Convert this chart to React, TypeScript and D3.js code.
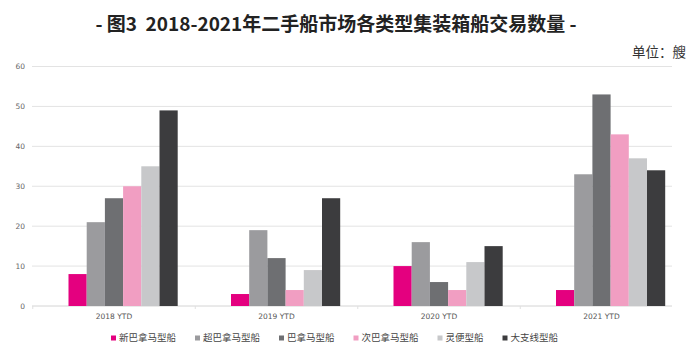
import React from "react";
import * as d3 from "d3";

const categories = ["2018 YTD", "2019 YTD", "2020 YTD", "2021 YTD"];
const seriesNames = ["新巴拿马型船", "超巴拿马型船", "巴拿马型船", "次巴拿马型船", "灵便型船", "大支线型船"];
const seriesColors = ["#e4007f", "#9b9b9e", "#6e6f72", "#f19ec2", "#c7c8ca", "#3c3c3e"];
const values2018 = [8, 21, 27, 30, 35, 49];
const values2019 = [3, 19, 12, 4, 9, 27];
const values2020 = [10, 16, 6, 4, 11, 15];
const values2021 = [4, 33, 53, 43, 37, 34];
const yTicks = [0, 10, 20, 30, 40, 50, 60];
const titleText = "- 图3  2018-2021年二手船市场各类型集装箱船交易数量 -";
const unitText = "单位：艘";

const valuesByCategory = [values2018, values2019, values2020, values2021];

export default function App() {
  const W = 696, H = 353;
  const plotLeft = 32, plotRight = 672;
  const y = d3.scaleLinear().domain([0, 60]).range([306, 66.5]);
  const x0 = d3.scaleBand<string>().domain(categories).range([32.75, 682.75]).paddingInner(0).paddingOuter(0);
  const slots = ["__blank", ...seriesNames];
  const groupW = 7 * 18.2;
  const x1 = d3.scaleBand<string>().domain(slots).range([0, groupW]).padding(0);
  const groupOffset = (x0.bandwidth() - groupW) / 2;

  const charW = 9.5;
  let lx = 111;
  const legendItems = seriesNames.map((name, i) => {
    const item = { name, color: seriesColors[i], x: lx };
    lx += 5 + 3 + name.length * charW + 19;
    return item;
  });

  const font = "'Noto Sans CJK SC', 'Noto Sans', sans-serif";

  return (
    <svg width={W} height={H} style={{ position: "absolute", left: 0, top: 0, background: "#fff" }} fontFamily={font}>
      <rect x={0} y={0} width={W} height={H} fill="#fff" />
      <text x={336} y={31} textAnchor="middle" fontSize={19} fontWeight="bold" fill="#222" style={{ whiteSpace: "pre" }}>{titleText}</text>
      <text x={686} y={57} textAnchor="end" fontSize={13.5} fill="#333">{unitText}</text>

      {yTicks.map((t) => (
        <g key={t}>
          <line x1={plotLeft} x2={plotRight} y1={y(t)} y2={y(t)} stroke={t === 0 ? "#d4d4d4" : "#e3e3e3"} strokeWidth={1} />
          <text x={25} y={y(t)} dy="0.35em" textAnchor="end" fontSize={7.5} fill="#666" fontFamily="'DejaVu Sans', sans-serif">{t}</text>
        </g>
      ))}

      {categories.map((c) => (
        <line key={"tk" + c} x1={x0(c)!} x2={x0(c)!} y1={306} y2={309} stroke="#e0e0e0" />
      ))}

      {categories.map((c, ci) => (
        <g key={c}>
          {seriesNames.map((s, si) => {
            const v = valuesByCategory[ci][si];
            const bx = x0(c)! + groupOffset + x1(s)!;
            return (
              <rect key={s} x={bx} y={y(v)} width={x1.bandwidth()} height={y(0) - y(v)} fill={seriesColors[si]} />
            );
          })}
          <text x={x0(c)! + x0.bandwidth() / 2} y={316} dy="0.35em" textAnchor="middle" fontSize={7.5} fill="#555" fontFamily="'DejaVu Sans', sans-serif">{c}</text>
        </g>
      ))}

      {legendItems.map((it) => (
        <g key={it.name}>
          <rect x={it.x} y={335.5} width={5} height={5} fill={it.color} />
          <text x={it.x + 8} y={338} dy="0.35em" fontSize={9.5} fill="#444">{it.name}</text>
        </g>
      ))}
    </svg>
  );
}
